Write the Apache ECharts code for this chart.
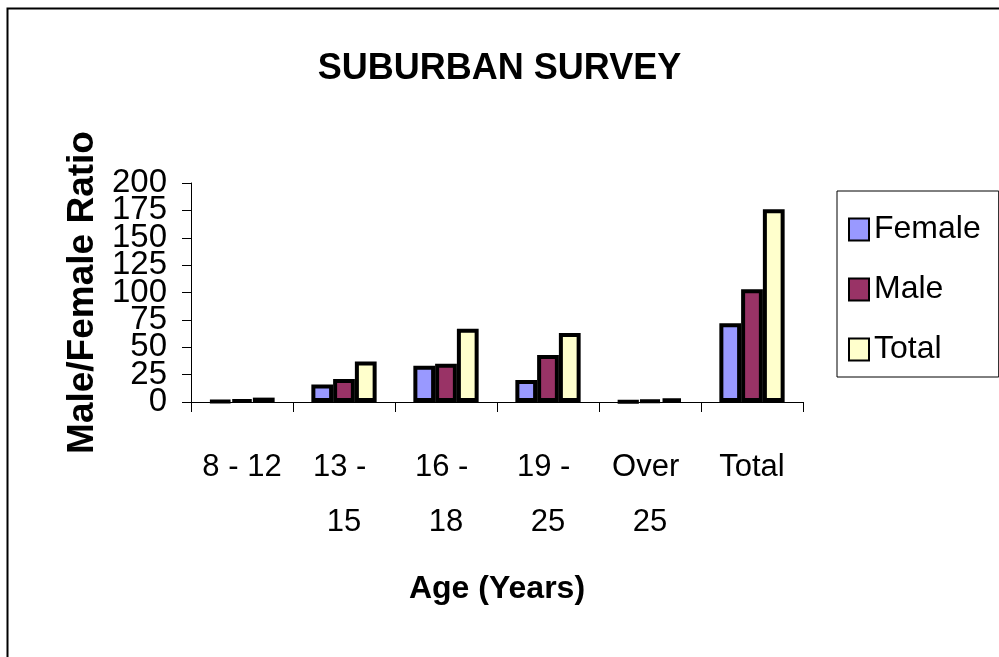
<!DOCTYPE html>
<html>
<head>
<meta charset="utf-8">
<script src="https://cdn.jsdelivr.net/npm/echarts@6/dist/echarts.min.js"></script>
<style>
  html, body { margin: 0; padding: 0; background: #fff; }
  #chart { width: 999px; height: 657px; }
</style>
</head>
<body>
<div id="chart"></div>
<script>
// survey data
const ageGroups = ['8 - 12', '13 - 15', '16 - 18', '19 - 25', 'Over 25', 'Total']
const female = [1, 16, 33, 20, 0.5, 72]
const male = [2, 21, 35, 43, 1.5, 103]
const total = [4, 37, 67, 63, 3, 176]
const yTicks = [0, 25, 50, 75, 100, 125, 150, 175, 200]

const FONT = '"Liberation Sans", Arial, sans-serif'

const chart = echarts.init(document.getElementById('chart'))

const barSeries = (name, data, color) => ({
  name: name,
  type: 'bar',
  data: data,
  barGap: '0%',
  barCategoryGap: '36%',
  itemStyle: {
    color: color,
    borderColor: '#000',
    borderWidth: 4
  }
})

// the y labels overlap in the original, so split them over two aligned axes
const yLabel = {
  margin: 24,
  fontFamily: FONT,
  fontSize: 33,
  color: '#000'
}

chart.setOption({
  backgroundColor: '#fff',
  animation: false,
  textStyle: { fontFamily: FONT, color: '#000' },
  title: {
    text: 'SUBURBAN SURVEY',
    left: 'center',
    top: 46,
    textStyle: { fontFamily: FONT, fontSize: 36, fontWeight: 'bold', color: '#000' }
  },
  legend: {
    orient: 'vertical',
    left: 837,
    top: 191,
    padding: [17, 18, 6, 11],
    borderColor: '#000',
    borderWidth: 1,
    itemWidth: 20,
    itemHeight: 22,
    itemGap: 17,
    itemTextGap: 12,
    icon: 'rect',
    textStyle: { fontFamily: FONT, fontSize: 32, lineHeight: 31, padding: [12, 0, 0, 0], color: '#000' },
    data: ['Female', 'Male', 'Total']
  },
  grid: {
    left: 191,
    right: 196,
    top: 183,
    bottom: 255
  },
  xAxis: {
    type: 'category',
    data: ageGroups,
    name: 'Age (Years)',
    nameLocation: 'middle',
    nameGap: 171,
    nameTextStyle: { fontFamily: FONT, fontSize: 32, fontWeight: 'bold', color: '#000' },
    axisLine: { lineStyle: { color: '#000', width: 1 } },
    axisTick: { show: true, length: 10, lineStyle: { color: '#000' } },
    axisLabel: {
      interval: 0,
      margin: 38,
      width: 92,
      overflow: 'break',
      fontFamily: FONT,
      fontSize: 31,
      lineHeight: 55,
      color: '#000'
    }
  },
  yAxis: [
    {
      type: 'value',
      min: yTicks[0],
      max: yTicks[yTicks.length - 1],
      interval: 25,
      name: 'Male/Female Ratio',
      nameLocation: 'middle',
      nameGap: 87,
      nameTextStyle: { fontFamily: FONT, fontSize: 37, fontWeight: 'bold', color: '#000' },
      splitLine: { show: false },
      axisLine: { show: true, lineStyle: { color: '#000', width: 1 } },
      axisTick: { show: true, length: 9, lineStyle: { color: '#000' } },
      axisLabel: Object.assign({
        showMinLabel: true,
        showMaxLabel: true,
        customValues: yTicks.filter((v, i) => i % 2 === 0)
      }, yLabel)
    },
    {
      type: 'value',
      position: 'left',
      min: yTicks[0],
      max: yTicks[yTicks.length - 1],
      interval: 25,
      splitLine: { show: false },
      axisLine: { show: false },
      axisTick: { show: false },
      axisLabel: Object.assign({
        customValues: yTicks.filter((v, i) => i % 2 === 1)
      }, yLabel)
    }
  ],
  graphic: [
    {
      type: 'rect',
      shape: { x: 7.5, y: 8.5, width: 1100, height: 800 },
      style: { fill: 'none', stroke: '#000', lineWidth: 2 },
      silent: true
    }
  ],
  series: [
    barSeries('Female', female, '#9999FF'),
    barSeries('Male', male, '#993366'),
    barSeries('Total', total, '#FFFFCC')
  ]
})
</script>
</body>
</html>
